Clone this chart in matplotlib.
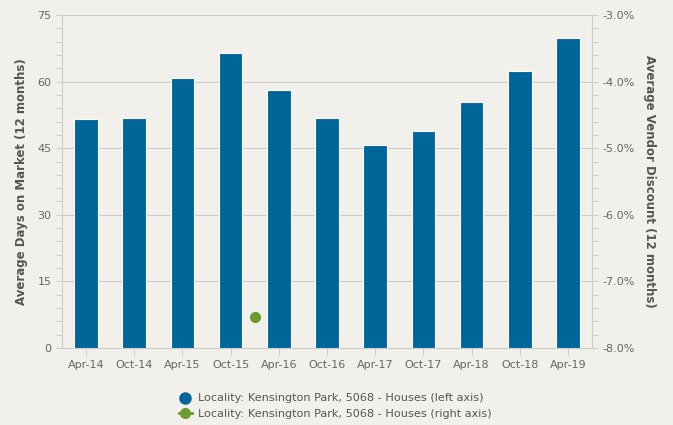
import matplotlib
matplotlib.use("Agg")
import matplotlib.pyplot as plt
from matplotlib.ticker import MultipleLocator, FuncFormatter
from matplotlib.lines import Line2D

categories = ["Apr-14", "Oct-14", "Apr-15", "Oct-15", "Apr-16", "Oct-16",
              "Apr-17", "Oct-17", "Apr-18", "Oct-18", "Apr-19"]
days_on_market = [51.6, 51.8, 60.7, 66.4, 58.2, 51.7, 45.8, 48.9, 55.3, 62.3, 69.8]
discount_x = [3.5]
discount_pct = [-7.53]

bg = "#f2f0eb"
bar_color = "#006699"
green = "#6a9a30"
tick_color = "#666666"
grid_color = "#cccccc"

fig = plt.figure(figsize=(6.73, 4.25), dpi=100, facecolor=bg)
ax = fig.add_axes([62/673, 1-348/425, 530/673, 333/425])
ax.set_facecolor(bg)
x = list(range(len(categories)))
ax.bar(x, days_on_market, width=0.49, color=bar_color, edgecolor="white", linewidth=0.8, zorder=3)
ax.set_xlim(-0.5, 10.5)
ax.set_ylim(0, 75)
ax.yaxis.set_major_locator(MultipleLocator(15))
ax.yaxis.set_minor_locator(MultipleLocator(3))
ax.grid(axis="y", which="major", color=grid_color, linewidth=0.8, zorder=0)
ax.set_xticks(x)
ax.set_xticklabels(categories)
ax.tick_params(axis="x", colors="#c0d0e8", length=5, width=0.8, labelcolor=tick_color, labelsize=8)
ax.tick_params(axis="y", which="both", colors=grid_color, length=4, width=0.8, labelcolor=tick_color, labelsize=8)
for s in ["top"]:
    ax.spines[s].set_visible(False)
for s in ["left", "right", "bottom"]:
    ax.spines[s].set_color(grid_color)
ax.set_ylabel("Average Days on Market (12 months)", fontsize=8.5, fontweight="bold", color="#555555", labelpad=7)

ax2 = ax.twinx()
ax2.set_ylim(-8, -3)
ax2.yaxis.set_major_locator(MultipleLocator(1))
ax2.yaxis.set_minor_locator(MultipleLocator(0.2))
ax2.yaxis.set_major_formatter(FuncFormatter(lambda v, p: f"{v:.1f}%"))
ax2.tick_params(axis="y", which="both", colors=grid_color, length=4, width=0.8, labelcolor=tick_color, labelsize=8)
for s in ["top", "left", "bottom"]:
    ax2.spines[s].set_visible(False)
ax2.spines["right"].set_color(grid_color)
ax2.plot(discount_x, discount_pct, "o", color=green, markersize=7, zorder=5)
ax2.set_ylabel("Average Vendor Discount (12 months)", fontsize=8.5, fontweight="bold", color="#555555",
               rotation=270, labelpad=15)

handles = [Line2D([], [], marker="o", linestyle="none", color=bar_color, markersize=8),
           Line2D([], [], marker="o", linestyle="-", color=green, markersize=7, linewidth=2)]
labels = ["Locality: Kensington Park, 5068 - Houses (left axis)",
          "Locality: Kensington Park, 5068 - Houses (right axis)"]
leg = fig.legend(handles, labels, loc="center", bbox_to_anchor=(335/673, 1-406/425), frameon=False,
                 fontsize=8.1, labelcolor="#555555", handlelength=1.2, handletextpad=0.5, labelspacing=0.45)

fig.savefig("out.png", dpi=100, facecolor=bg)
